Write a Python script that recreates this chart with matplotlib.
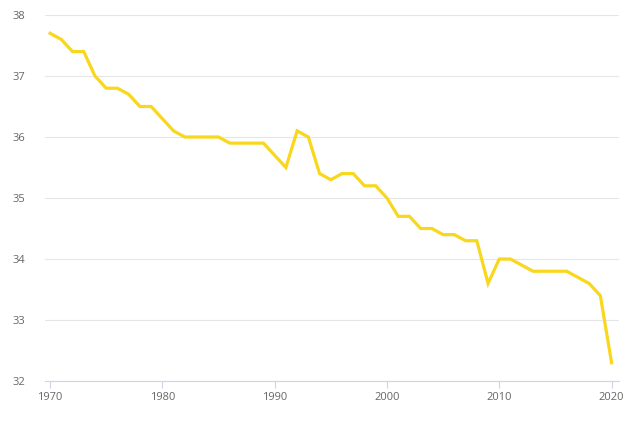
import matplotlib
matplotlib.use("Agg")
import matplotlib.pyplot as plt

years = list(range(1970, 2021))
values = [37.7, 37.6, 37.4, 37.4, 37.0, 36.8, 36.8, 36.7, 36.5, 36.5,
          36.3, 36.1, 36.0, 36.0, 36.0, 36.0, 35.9, 35.9, 35.9, 35.9,
          35.7, 35.5, 36.1, 36.0, 35.4, 35.3, 35.4, 35.4, 35.2, 35.2,
          35.0, 34.7, 34.7, 34.5, 34.5, 34.4, 34.4, 34.3, 34.3, 33.6,
          34.0, 34.0, 33.9, 33.8, 33.8, 33.8, 33.8, 33.7, 33.6, 33.4,
          32.3]
y_ticks = [32, 33, 34, 35, 36, 37, 38]
x_ticks = [1970, 1980, 1990, 2000, 2010, 2020]

plt.rcParams['font.family'] = ['Open Sans', 'DejaVu Sans']
fig = plt.figure(figsize=(6.4, 4.38), dpi=100)
ax = fig.add_axes([0.0703, 0.130, 0.8967, 0.8358])
ax.plot(years, values, color='#F9D71C', linewidth=2.3, solid_joinstyle='miter', zorder=3)
ax.set_xlim(1969.55, 2020.65)
ax.set_ylim(32, 38)
ax.set_yticks(y_ticks)
ax.set_xticks(x_ticks)
ax.grid(axis='y', color='#e6e6e6', linewidth=0.8)
ax.grid(axis='x', visible=False)
for s in ['top', 'right', 'left']:
    ax.spines[s].set_visible(False)
ax.spines['bottom'].set_color('#ccd6eb')
ax.spines['bottom'].set_linewidth(0.8)
ax.tick_params(axis='y', length=0, pad=14, labelsize=8, labelcolor='#666666')
ax.tick_params(axis='x', length=5, width=0.8, color='#ccd6eb', pad=3, labelsize=8, labelcolor='#666666')
fig.savefig('out.png', dpi=100, facecolor='white')
